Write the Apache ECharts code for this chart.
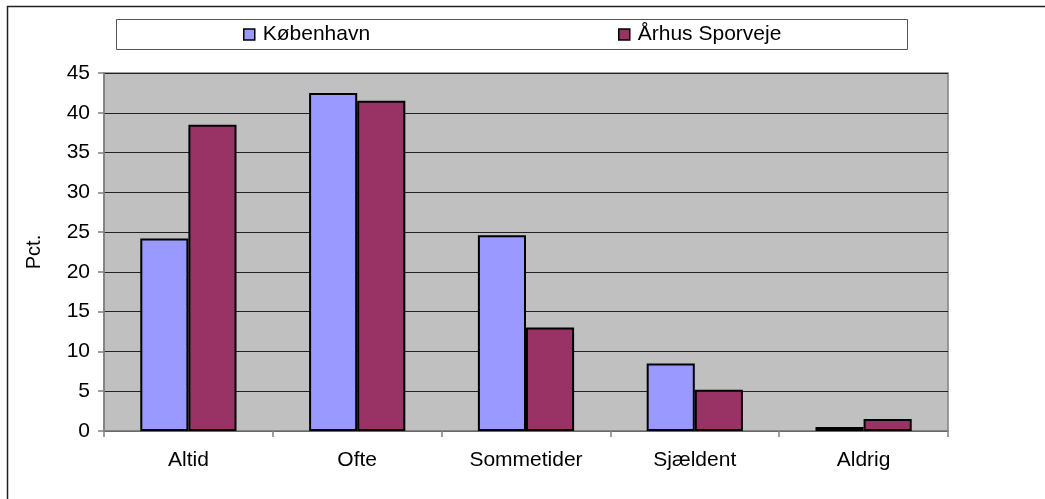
<!DOCTYPE html>
<html>
<head>
<meta charset="utf-8">
<script src="https://cdn.jsdelivr.net/npm/echarts@6/dist/echarts.min.js"></script>
<style>
  html, body { margin: 0; padding: 0; background: #fff; }
  #chart-container { width: 1045px; height: 499px; }
</style>
</head>
<body>
<div id="chart-container"></div>
<script>
// data
var kategorier = ['Altid', 'Ofte', 'Sommetider', 'Sjældent', 'Aldrig'];
var koebenhavn = [24.2, 42.5, 24.6, 8.5, 0.5];
var aarhus = [38.5, 41.5, 13.0, 5.2, 1.5];
var serieNavne = ['København', 'Århus Sporveje'];
var yMin = 0, yMax = 45, yStep = 5;

var dom = document.getElementById('chart-container');
var myChart = echarts.init(dom, null, { renderer: 'canvas' });

var font = 'Liberation Sans, Arial, sans-serif';

var legendBase = {
  top: 24,
  padding: 0,
  icon: 'rect',
  itemWidth: 11,
  itemHeight: 11,
  selectedMode: false,
  textStyle: { fontFamily: font, fontSize: 21, color: '#000', padding: [0, 0, 0, 3] },
  itemStyle: { borderColor: '#000', borderWidth: 1.5 }
};

var option = {
  backgroundColor: '#fff',
  animation: false,
  textStyle: { fontFamily: font },
  graphic: [
    {
      type: 'rect',
      z: -10,
      shape: { x: 7.5, y: 6.5, width: 1200, height: 700 },
      style: { fill: '#fff', stroke: '#222', lineWidth: 1.5 }
    },
    {
      type: 'rect',
      z: -5,
      shape: { x: 116.5, y: 19.5, width: 791, height: 30 },
      style: { fill: '#fff', stroke: '#555', lineWidth: 1 }
    }
  ],
  legend: [
    Object.assign({ left: 243, data: [serieNavne[0]] }, legendBase),
    Object.assign({ left: 618, data: [serieNavne[1]] }, legendBase)
  ],
  grid: {
    left: 104,
    right: 97,
    top: 73,
    bottom: 68,
    show: true,
    backgroundColor: '#c0c0c0',
    borderColor: '#808080',
    borderWidth: 1.5
  },
  xAxis: {
    type: 'category',
    data: kategorier,
    axisLine: { lineStyle: { color: '#808080', width: 1.5 } },
    axisTick: { show: true, length: 6, lineStyle: { color: '#808080', width: 1.5 } },
    axisLabel: { fontSize: 21, color: '#000', margin: 19 }
  },
  yAxis: {
    type: 'value',
    min: yMin,
    max: yMax,
    interval: yStep,
    name: 'Pct.',
    nameLocation: 'middle',
    nameGap: 60,
    nameTextStyle: { fontSize: 20, color: '#000' },
    axisLine: { show: true, lineStyle: { color: '#808080', width: 1.5 } },
    axisTick: { show: true, length: 6, lineStyle: { color: '#808080', width: 1.5 } },
    axisLabel: { fontSize: 21, color: '#000', margin: 14 },
    splitLine: { show: true, lineStyle: { color: '#222', width: 1 } }
  },
  series: [
    {
      name: serieNavne[0],
      type: 'bar',
      data: koebenhavn,
      barGap: '0%',
      barCategoryGap: '43%',
      itemStyle: { color: '#9999ff', borderColor: '#000', borderWidth: 2 }
    },
    {
      name: serieNavne[1],
      type: 'bar',
      data: aarhus,
      barGap: '0%',
      barCategoryGap: '43%',
      itemStyle: { color: '#993366', borderColor: '#000', borderWidth: 2 }
    }
  ]
};

myChart.setOption(option);
window.addEventListener('resize', myChart.resize);
</script>
</body>
</html>
